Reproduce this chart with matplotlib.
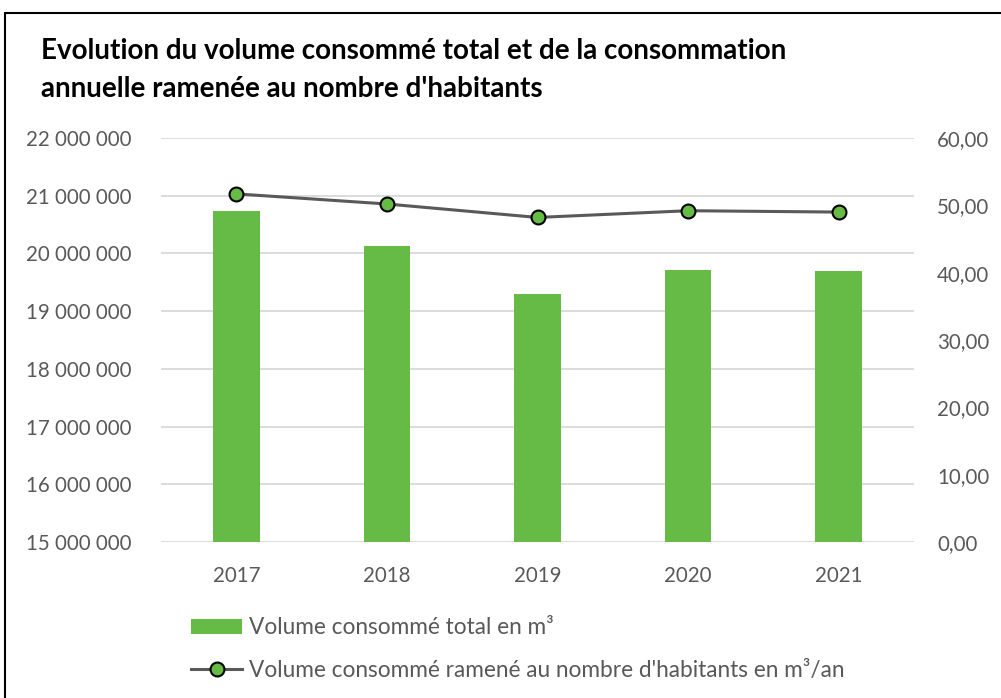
import matplotlib
matplotlib.use("Agg")
import matplotlib.pyplot as plt
from matplotlib.patches import Rectangle
from matplotlib.ticker import FuncFormatter
from matplotlib.lines import Line2D
from matplotlib.patches import Patch

years = ["2017", "2018", "2019", "2020", "2021"]
volume_total = [20735000, 20130000, 19295000, 19720000, 19690000]
volume_per_hab = [51.7, 50.2, 48.2, 49.2, 49.0]
left_ticks = [15000000, 16000000, 17000000, 18000000, 19000000, 20000000, 21000000, 22000000]
right_ticks = [0, 10, 20, 30, 40, 50, 60]

title = "Evolution du volume consommé total et de la consommation\nannuelle ramenée au nombre d'habitants"
label_bar = "Volume consommé total en m³"
label_line = "Volume consommé ramené au nombre d'habitants en m³/an"

GREEN = "#65bb45"
TXT = "#595959"
GRID = "#d9d9d9"
FONT = ["Lato", "DejaVu Sans"]

plt.rcParams['font.family'] = FONT

W, H = 1001, 698
fig = plt.figure(figsize=(W / 100, H / 100), dpi=100)

# frame
fig.patches.append(Rectangle((5 / W, -0.1), 1.2, 1 - 13 / H + 0.1, transform=fig.transFigure,
                             fill=False, edgecolor="black", linewidth=1.5))

ax = fig.add_axes([161 / W, 1 - 542 / H, (914 - 161) / W, (542 - 138) / H])
x = list(range(len(years)))
ax.bar(x, volume_total, width=0.31, color=GREEN, zorder=2)
ax.set_xlim(-0.5, len(years) - 0.5)
ax.set_ylim(left_ticks[0], left_ticks[-1])
ax.set_yticks(left_ticks)
ax.yaxis.set_major_formatter(FuncFormatter(lambda v, p: f"{int(v):,}".replace(",", " ")))
ax.set_xticks(x)
ax.set_xticklabels(years)
ax.grid(axis="y", color=GRID, linewidth=1.3, zorder=0)
ax.set_axisbelow(True)
for s in ax.spines.values():
    s.set_visible(False)
ax.tick_params(axis="both", length=0, labelsize=14.8, colors=TXT)
ax.tick_params(axis="y", pad=21.5)
ax.tick_params(axis="x", pad=17)

ax2 = ax.twinx()
ax2.plot(x, volume_per_hab, color="#595959", linewidth=2.2, marker="o", markersize=10,
         markerfacecolor=GREEN, markeredgecolor="black", markeredgewidth=1.5, zorder=3)
ax2.set_ylim(right_ticks[0], right_ticks[-1])
ax2.set_yticks(right_ticks)
ax2.yaxis.set_major_formatter(FuncFormatter(lambda v, p: f"{v:.2f}".replace(".", ",")))
for s in ax2.spines.values():
    s.set_visible(False)
ax2.tick_params(axis="y", length=0, labelsize=14.8, colors=TXT, pad=16.5)

fig.text(41 / W, 1 - 38 / H, title, fontsize=20, fontweight="bold", color="black",
         va="top", ha="left", linespacing=1.55)

handles = [Patch(facecolor=GREEN, edgecolor="none"),
           Line2D([0], [0], color="#595959", linewidth=2.2, marker="o", markersize=10,
                  markerfacecolor=GREEN, markeredgecolor="black", markeredgewidth=1.5)]
leg = fig.legend(handles, [label_bar, label_line], loc="upper left",
                 bbox_to_anchor=(171 / W, 1 - 597 / H), frameon=False, fontsize=16.3,
                 labelcolor=TXT, handlelength=2.25, handleheight=0.65, handletextpad=0.3,
                 labelspacing=0.95)

fig.savefig("out.png", dpi=100)
